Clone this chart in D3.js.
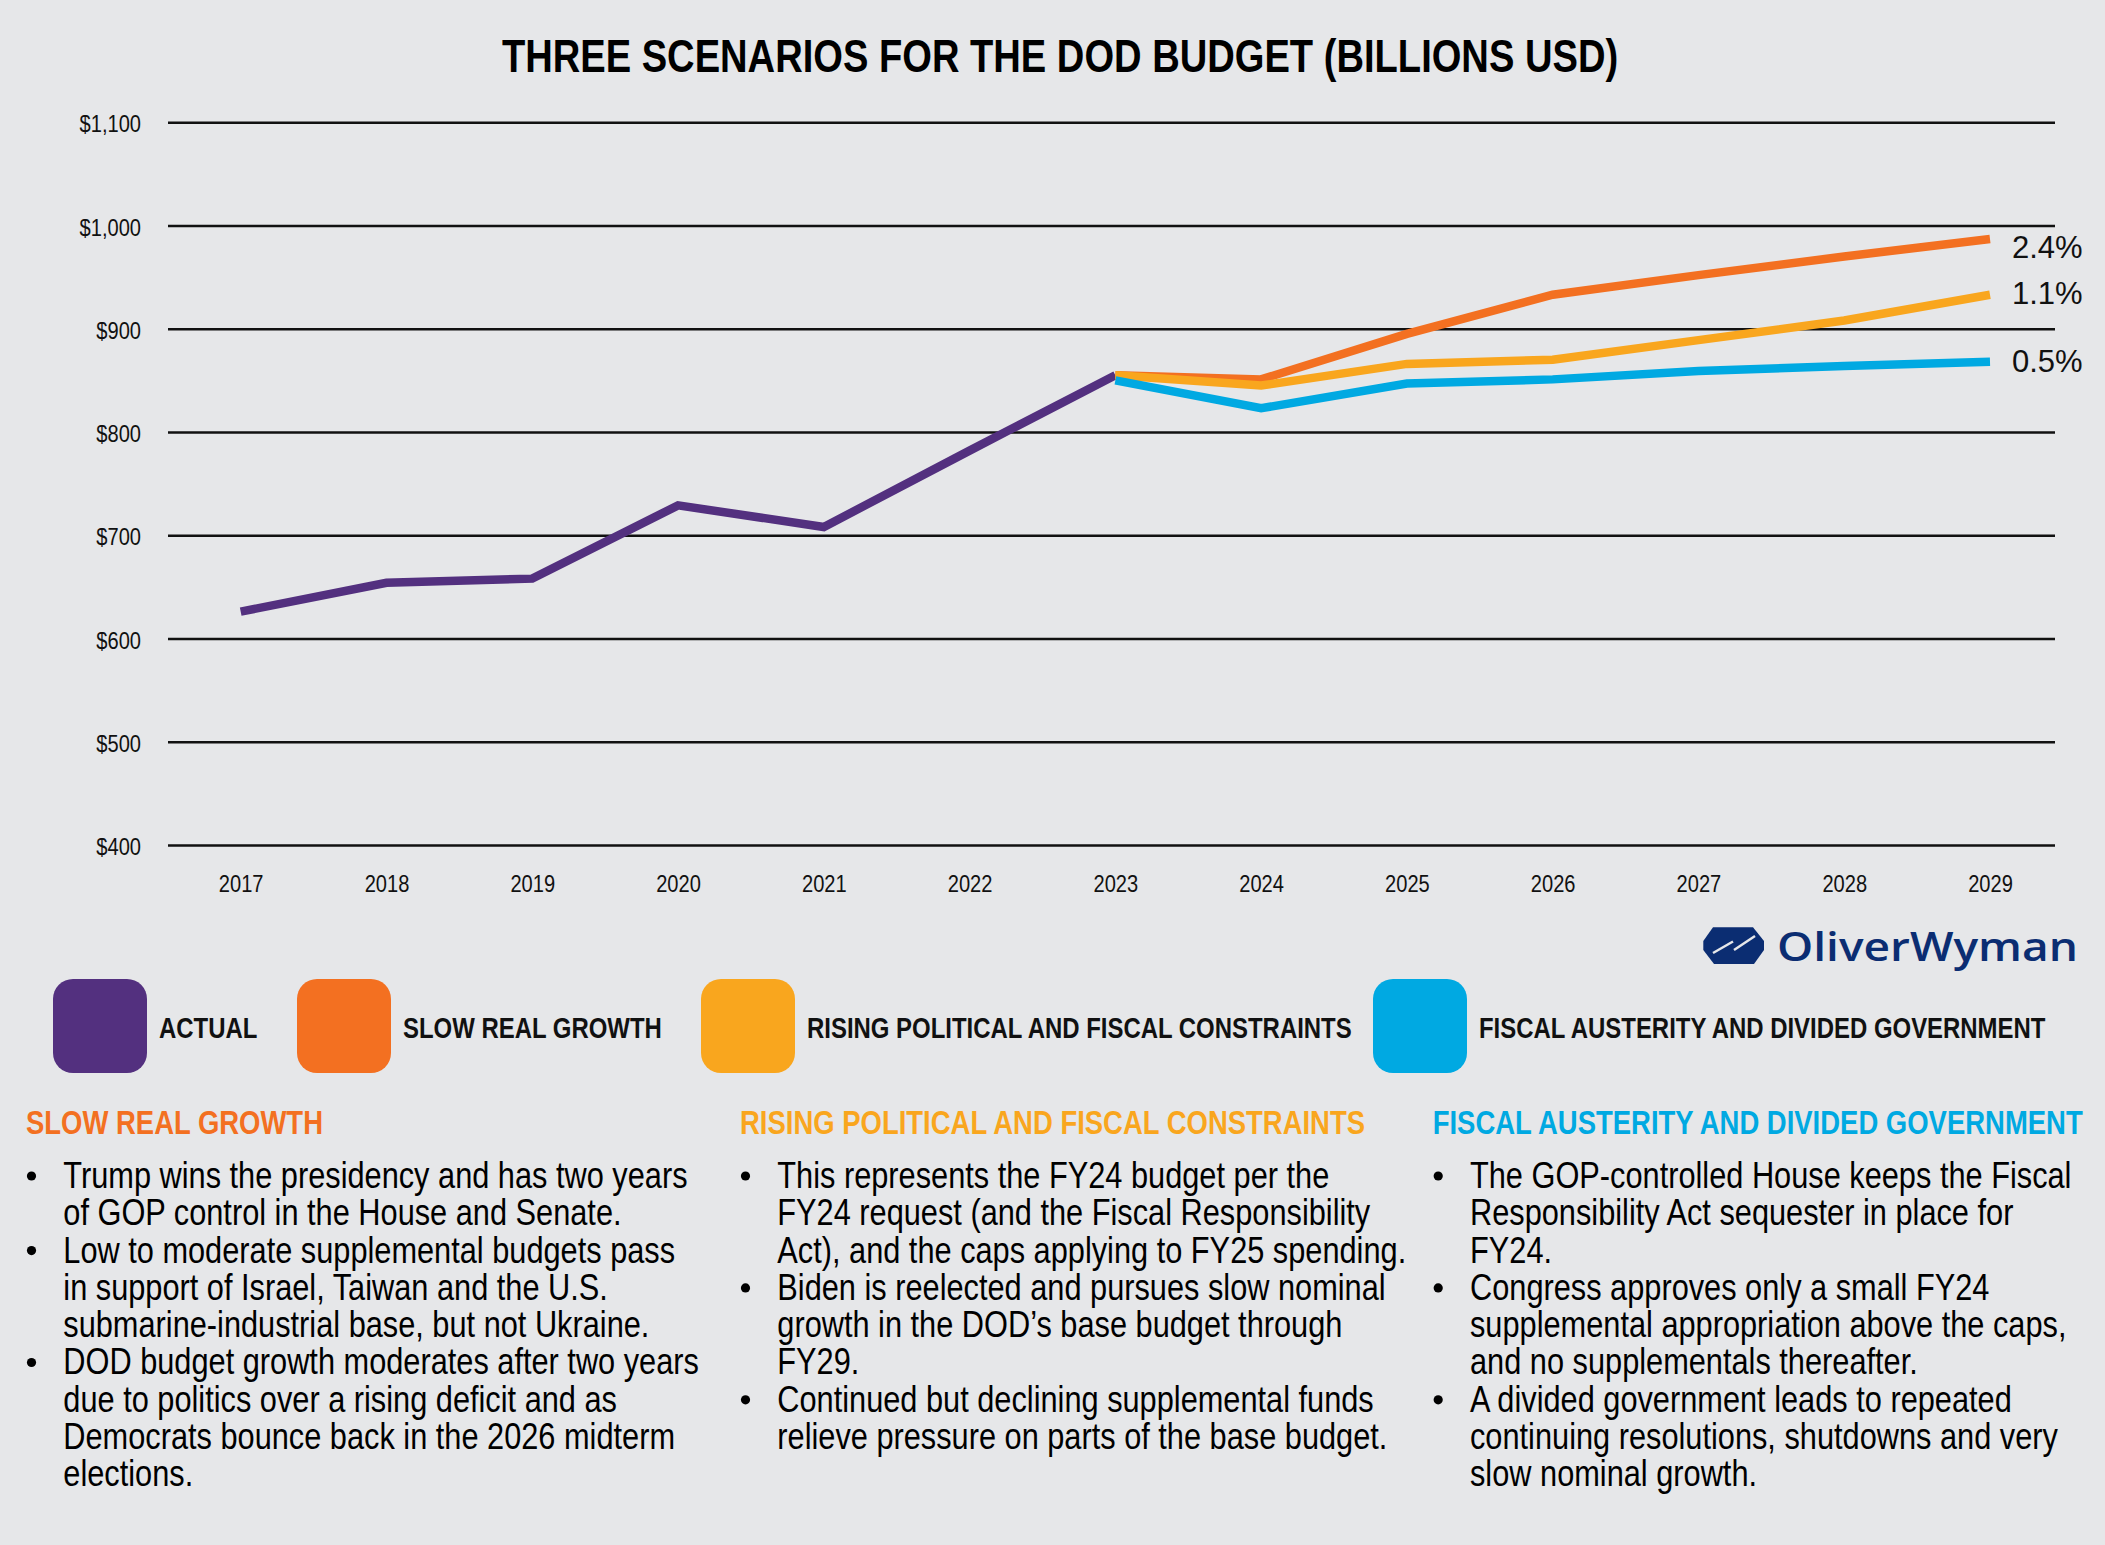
<!DOCTYPE html>
<html>
<head>
<meta charset="utf-8">
<script src="https://cdn.jsdelivr.net/npm/d3@7"></script>
<style>
  html, body { margin: 0; padding: 0; background: #E6E7E9; }
  svg { display: block; }
</style>
</head>
<body>
<svg id="chart" width="2105" height="1545"></svg>
<script>
// ---------------- DATA ----------------
const years = [2017, 2018, 2019, 2020, 2021, 2022, 2023, 2024, 2025, 2026, 2027, 2028, 2029];
const yTicks = [400, 500, 600, 700, 800, 900, 1000, 1100];

const actualYears = [2017, 2018, 2019, 2020, 2021, 2022, 2023];
const actualValues = [626, 654, 658, 729, 708, 782, 855];

const scenarioYears = [2023, 2024, 2025, 2026, 2027, 2028, 2029];
const slowRealGrowth = [855, 851, 895, 933, 952, 970, 987];
const risingConstraints = [855, 845, 866, 870, 889, 908, 933];
const fiscalAusterity = [850, 823, 847, 851, 859, 864, 868];

const growthLabels = ["2.4%", "1.1%", "0.5%"];

const legendNames = ["ACTUAL", "SLOW REAL GROWTH", "RISING POLITICAL AND FISCAL CONSTRAINTS", "FISCAL AUSTERITY AND DIVIDED GOVERNMENT"];

const titleText = "THREE SCENARIOS FOR THE DOD BUDGET (BILLIONS USD)";

const col1Heading = "SLOW REAL GROWTH";
const col1Bullets = [
  ["Trump wins the presidency and has two years", "of GOP control in the House and Senate."],
  ["Low to moderate supplemental budgets pass", "in support of Israel, Taiwan and the U.S.", "submarine-industrial base, but not Ukraine."],
  ["DOD budget growth moderates after two years", "due to politics over a rising deficit and as", "Democrats bounce back in the 2026 midterm", "elections."]
];
const col2Heading = "RISING POLITICAL AND FISCAL CONSTRAINTS";
const col2Bullets = [
  ["This represents the FY24 budget per the", "FY24 request (and the Fiscal Responsibility", "Act), and the caps applying to FY25 spending."],
  ["Biden is reelected and pursues slow nominal", "growth in the DOD\u2019s base budget through", "FY29."],
  ["Continued but declining supplemental funds", "relieve pressure on parts of the base budget."]
];
const col3Heading = "FISCAL AUSTERITY AND DIVIDED GOVERNMENT";
const col3Bullets = [
  ["The GOP-controlled House keeps the Fiscal", "Responsibility Act sequester in place for", "FY24."],
  ["Congress approves only a small FY24", "supplemental appropriation above the caps,", "and no supplementals thereafter."],
  ["A divided government leads to repeated", "continuing resolutions, shutdowns and very", "slow nominal growth."]
];

// ---------------- STYLE ----------------
const COLORS = { actual: "#53307F", slow: "#F37021", rising: "#F9A61E", austerity: "#00A9E2" };
const BG = "#E6E7E9";
const FAMILY = '"Liberation Sans", Arial, Helvetica, sans-serif';
const SQUEEZE = 0.82;   // condensed look (Helvetica Condensed ~ 82% of regular width)

// condensed text: regular face, horizontally scaled
function addText(parent, o) {
  const sx = o.narrow === false ? 1 : SQUEEZE;
  const t = parent.append("text")
    .attr("transform", `translate(${o.x},${o.y}) scale(${sx},1)`)
    .attr("font-family", FAMILY)
    .attr("font-size", o.size)
    .attr("font-weight", o.weight || "normal")
    .attr("fill", o.fill || "#000")
    .attr("text-anchor", o.anchor || "start");
  if (o.lines) {
    o.lines.forEach((ln, i) => {
      t.append("tspan").attr("x", 0).attr("y", i * o.lineHeight).text(ln);
    });
  } else {
    t.text(o.text);
  }
  return t;
}
function condenseAxisText(sel) {
  sel.attr("font-family", FAMILY).each(function () {
    const t = d3.select(this);
    const x0 = +t.attr("x") || 0;
    t.attr("x", x0 / SQUEEZE).attr("transform", `scale(${SQUEEZE},1)`);
  });
}

// ---------------- DRAW ----------------
const svg = d3.select("#chart");
svg.append("rect").attr("width", 2105).attr("height", 1545).attr("fill", BG);

const plotLeft = 168, plotRight = 2055, plotTop = 122.3, plotBottom = 845;
const x = d3.scalePoint().domain(years).range([240.7, 1990]);
const y = d3.scaleLinear().domain([400, 1100]).range([plotBottom, plotTop]);

// Title
addText(svg, { x: 1060, y: 71.7, text: titleText, size: 46.5, weight: "bold", anchor: "middle" });

// Y axis with gridlines
const yAxis = svg.append("g").attr("transform", `translate(${plotLeft},0)`)
  .call(d3.axisLeft(y).tickValues(yTicks)
    .tickFormat(d => "$" + d3.format(",")(d))
    .tickSize(-(plotRight - plotLeft)).tickPadding(27));
yAxis.select(".domain").remove();
yAxis.selectAll(".tick line").attr("stroke", "#111").attr("stroke-width", 2.6);
yAxis.selectAll(".tick text").attr("font-size", 24.5).attr("fill", "#111").attr("dy", "0.39em");
condenseAxisText(yAxis.selectAll(".tick text"));

// X axis labels
const xAxis = svg.append("g").attr("transform", `translate(0,${plotBottom})`)
  .call(d3.axisBottom(x).tickSize(0).tickPadding(29.5).tickFormat(d => String(d)));
xAxis.select(".domain").remove();
xAxis.selectAll(".tick text").attr("font-size", 24.5).attr("fill", "#111");
condenseAxisText(xAxis.selectAll(".tick text"));

// Lines
const line = d3.line().x(d => x(d[0])).y(d => y(d[1]));
const seriesDefs = [
  { key: "actual", years: actualYears, values: actualValues },
  { key: "slow", years: scenarioYears, values: slowRealGrowth, label: growthLabels[0], labelDy: 19 },
  { key: "rising", years: scenarioYears, values: risingConstraints, label: growthLabels[1], labelDy: 9 },
  { key: "austerity", years: scenarioYears, values: fiscalAusterity, label: growthLabels[2], labelDy: 10 }
];
const linesG = svg.append("g");
seriesDefs.forEach(s => {
  const pts = s.years.map((yr, i) => [yr, s.values[i]]);
  linesG.append("path").datum(pts)
    .attr("d", line)
    .attr("fill", "none")
    .attr("stroke", COLORS[s.key])
    .attr("stroke-width", 8.5)
    .attr("stroke-linejoin", "miter")
    .attr("stroke-linecap", "butt");
});
seriesDefs.filter(s => s.label).forEach(s => {
  const last = s.values[s.values.length - 1];
  addText(svg, { x: 2012, y: y(last) + s.labelDy, text: s.label, size: 31, narrow: false, fill: "#111" });
});

// Logo
const logo = svg.append("g");
logo.append("polygon")
  .attr("points", "1703.3,941 1713,927.3 1753,927.3 1764,941 1764,950 1754,964 1714,964 1703.3,950")
  .attr("fill", "#0B2D72");
logo.append("line").attr("x1", 1713).attr("y1", 953).attr("x2", 1733).attr("y2", 941.5)
  .attr("stroke", BG).attr("stroke-width", 2.5);
logo.append("line").attr("x1", 1734).attr("y1", 950).attr("x2", 1755).attr("y2", 936)
  .attr("stroke", BG).attr("stroke-width", 2.5);
logo.append("text").text("OliverWyman")
  .attr("x", 1777).attr("y", 960.5)
  .attr("font-family", '"Open Sans", "Noto Sans", sans-serif')
  .attr("font-weight", 600)
  .attr("font-size", 39.5)
  .attr("fill", "#0B2D72")
  .attr("textLength", 301).attr("lengthAdjust", "spacingAndGlyphs");

// Legend
const legendColors = [COLORS.actual, COLORS.slow, COLORS.rising, COLORS.austerity];
const legendX = [53, 297, 701, 1373];
const legend = svg.append("g");
legendNames.forEach((name, i) => {
  legend.append("rect").attr("x", legendX[i]).attr("y", 979).attr("width", 94).attr("height", 94)
    .attr("rx", 20).attr("ry", 20).attr("fill", legendColors[i]);
  addText(legend, { x: legendX[i] + 106, y: 1037.5, text: name, size: 29.2, weight: "bold", fill: "#111" });
});

// Text columns
const columns = [
  { x: 26, heading: col1Heading, color: COLORS.slow, bullets: col1Bullets },
  { x: 740, heading: col2Heading, color: COLORS.rising, bullets: col2Bullets },
  { x: 1432.7, heading: col3Heading, color: COLORS.austerity, bullets: col3Bullets }
];
const lineH = 37.3;
const firstBaseline = 1188;
columns.forEach(col => {
  const g = svg.append("g");
  addText(g, { x: col.x, y: 1133.5, text: col.heading, size: 33.5, weight: "bold", fill: col.color });
  const allLines = [];
  col.bullets.forEach(b => {
    g.append("circle")
      .attr("cx", col.x + 5.5).attr("cy", firstBaseline + allLines.length * lineH - 12)
      .attr("r", 4.6).attr("fill", "#000");
    b.forEach(ln => allLines.push(ln));
  });
  addText(g, { x: col.x + 37.3, y: firstBaseline, lines: allLines, lineHeight: lineH, size: 37.5, fill: "#000" });
});
</script>
</body>
</html>
